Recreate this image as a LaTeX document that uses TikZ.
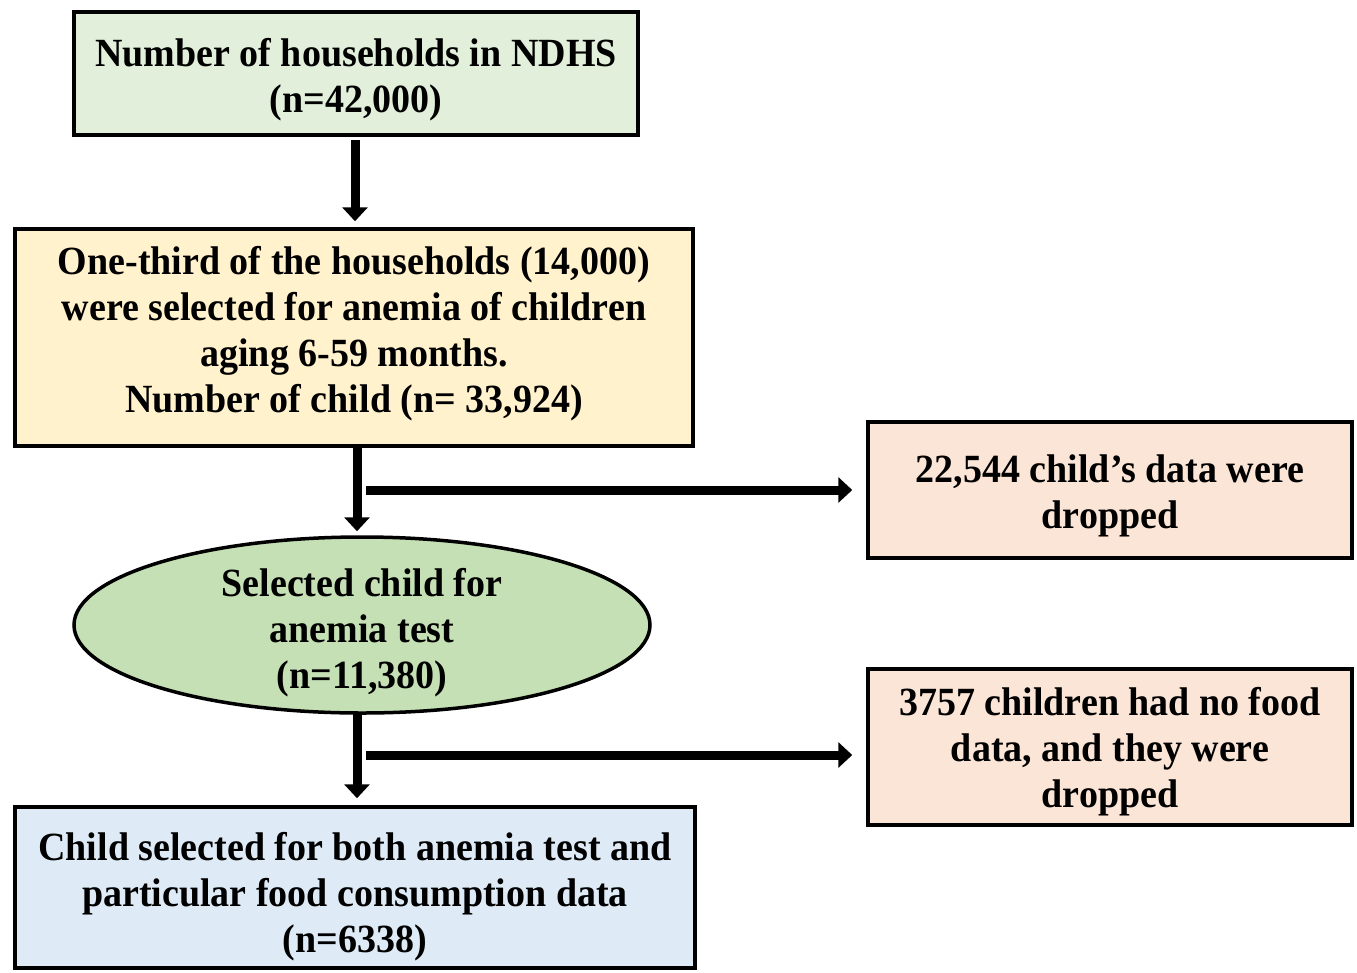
\documentclass[tikz,border=0pt]{standalone}
\usepackage{fontspec}
\setmainfont{Liberation Serif}[FakeStretch=0.95]
\usetikzlibrary{arrows.meta,shapes.geometric,calc}
\definecolor{cgreen}{HTML}{E2EFDA}
\definecolor{cyellow}{HTML}{FFF2CC}
\definecolor{cpeach}{HTML}{FBE5D6}
\definecolor{cell}{HTML}{C5E0B4}
\definecolor{cblue}{HTML}{DEEBF7}
\tikzset{
  box/.style={draw=black, line width=3.5pt, rectangle, inner sep=0pt},
  txt/.style={align=center, inner sep=0pt, font=\fontsize{40}{46}\selectfont\bfseries},
  arr/.style={line width=9pt, -{Triangle[width=25pt,length=14pt]}},
}
\begin{document}
\begin{tikzpicture}[x=1pt,y=-1pt]
\useasboundingbox (0,0) rectangle (1357,972);
\node[box, fill=cgreen, minimum width=564pt, minimum height=123pt] (b1) at (356,73.5) {};
\node[txt] (b1t) at ($(b1.center)+(0,6)$) {Number of households in NDHS\\(n=42,000)};
\node[box, fill=cyellow, minimum width=678pt, minimum height=217pt] (b2) at (354,337.5) {};
\node[txt] (b2t) at ($(b2.center)+(0,-4)$) {One-third of the households (14,000)\\were selected for anemia of children\\aging 6-59 months.\\Number of child (n= 33,924)};
\node[box, fill=cpeach, minimum width=484pt, minimum height=136pt] (r1) at (1110,490) {};
\node[txt] (r1t) at ($(r1.center)+(0,6)$) {22,544 child’s data were\\dropped};
\node[box, ellipse, fill=cell, minimum width=576pt, minimum height=176pt] (e1) at (362,625) {};
\node[txt] (e1t) at ($(e1.center)+(0,8)$) {Selected child for\\anemia test\\(n=11,380)};
\node[box, fill=cpeach, minimum width=484pt, minimum height=156pt] (r2) at (1110,747) {};
\node[txt] (r2t) at ($(r2.center)+(0,5)$) {3757 children had no food\\data, and they were\\dropped};
\node[box, fill=cblue, minimum width=680pt, minimum height=161pt] (b3) at (355,887.5) {};
\node[txt] (b3t) at ($(b3.center)+(0,9)$) {Child selected for both anemia test and\\particular food consumption data\\(n=6338)};
\coordinate (t1) at (355,140);
\coordinate (t2) at (357,448);
\coordinate (t3) at (357,714);
\coordinate (j1) at (366,490);
\coordinate (j2) at (366,755);
\draw[arr, shorten >=6pt] (t1) -- (t1 |- b2.north);
\draw[arr, shorten >=4pt] (t2) -- (t2 |- e1.north);
\draw[arr, shorten >=7pt] (t3) -- (t3 |- b3.north);
\draw[arr, shorten >=14pt] (j1) -- (j1 -| r1.west);
\draw[arr, shorten >=14pt] (j2) -- (j2 -| r2.west);
\end{tikzpicture}
\end{document}
